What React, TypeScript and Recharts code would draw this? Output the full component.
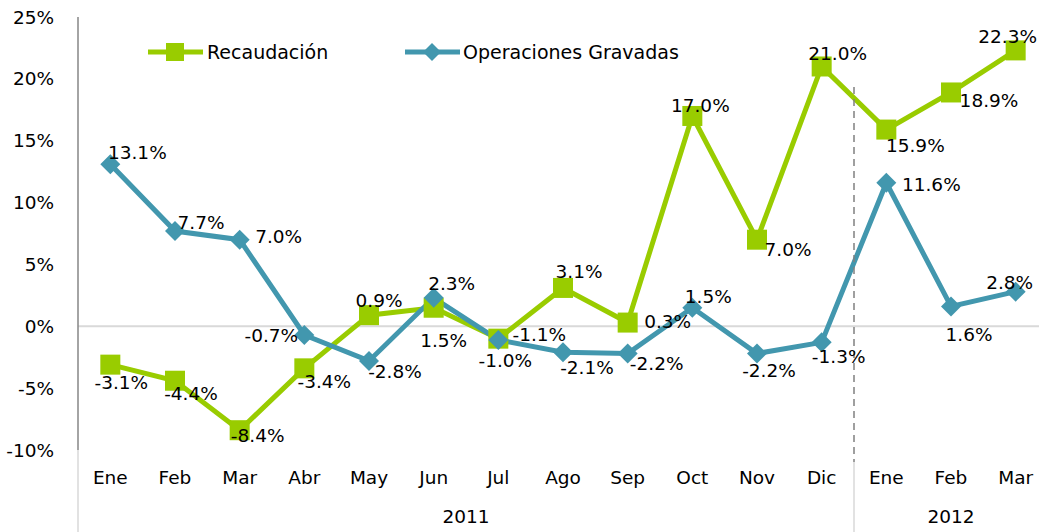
import React from 'react';
import { LineChart, Line, XAxis, YAxis, ReferenceLine } from 'recharts';

const months = ['Ene', 'Feb', 'Mar', 'Abr', 'May', 'Jun', 'Jul', 'Ago', 'Sep', 'Oct', 'Nov', 'Dic', 'Ene', 'Feb', 'Mar'];
const yearOfMonth = ['2011', '2011', '2011', '2011', '2011', '2011', '2011', '2011', '2011', '2011', '2011', '2011', '2012', '2012', '2012'];
const yearLabels = ['2011', '2012'];
const recaudacion = [-3.1, -4.4, -8.4, -3.4, 0.9, 1.5, -1.0, 3.1, 0.3, 17.0, 7.0, 21.0, 15.9, 18.9, 22.3];
const operaciones = [13.1, 7.7, 7.0, -0.7, -2.8, 2.3, -1.1, -2.1, -2.2, 1.5, -2.2, -1.3, 11.6, 1.6, 2.8];
const yTicks = [-10, -5, 0, 5, 10, 15, 20, 25];

// label placement offsets (dx, dy) from each point to label centre
const recLabelOffsets = [[11, 17], [16, 12], [18, 5], [20, 13], [10, -15], [10, 32], [7, 21], [16, -17], [40, -2], [8, -11], [31, 9], [16, -13], [29, 15], [38, 8], [-8, -14]];
const opLabelOffsets = [[27, -12], [26, -9], [39, -4], [-33, 0], [26, 10], [18, -15], [41, -6], [24, 15], [29, 9], [16, -12], [12, 16], [17, 14], [45, 1], [18, 28], [-6, -10]];

const GREEN = '#99CC00';
const BLUE = '#4297AE';
const FONT = '"DejaVu Sans", Verdana, sans-serif';
const FS = 18.5;

const data = months.map((m, i) => ({
  key: `${m}-${yearOfMonth[i]}`,
  rec: recaudacion[i],
  op: operaciones[i],
}));

const CHART_W = 1050;
const Y_AXIS_W = 78;
const M_RIGHT = 2;
const BAND = (CHART_W - Y_AXIS_W - M_RIGHT) / months.length;

const MonthTick = (props: any) => {
  const { x, y, payload } = props;
  const i = payload?.index ?? props.index;
  const half = payload?.offset ? payload.offset : BAND / 2;
  return (
    <g>
      <text x={x} y={y + 34} textAnchor="middle" fill="#000" fontSize={FS} fontFamily={FONT}>
        {months[i]}
      </text>
      {i === 0 && (
        <line x1={x - half} x2={x - half} y1={y} y2={y + 82} stroke="#d9d9d9" strokeWidth={1.5} />
      )}
      {i === 5 && (
        <text x={x + half} y={y + 73} textAnchor="middle" fill="#000" fontSize={FS} fontFamily={FONT}>
          {yearLabels[0]}
        </text>
      )}
      {i === 13 && (
        <text x={x} y={y + 73} textAnchor="middle" fill="#000" fontSize={FS} fontFamily={FONT}>
          {yearLabels[1]}
        </text>
      )}
      {i === 11 && (
        <g>
          <line x1={x + half} x2={x + half} y1={y - 363} y2={y + 12} stroke="#808080" strokeWidth={1.5} strokeDasharray="7 5" />
          <line x1={x + half} x2={x + half} y1={y + 12} y2={y + 82} stroke="#d9d9d9" strokeWidth={1.5} />
        </g>
      )}
    </g>
  );
};

const makeLabel = (offsets: number[][]) => (props: any) => {
  const { x, y, value, index } = props;
  if (x == null || y == null || value == null) return null;
  const off = offsets[index] || [0, -12];
  return (
    <text x={x + off[0]} y={y + off[1] + 7} textAnchor="middle" fill="#000" fontSize={FS} fontFamily={FONT}>
      {`${Number(value).toFixed(1)}%`}
    </text>
  );
};

const SquareDot = (props: any) => {
  const { cx, cy, index } = props;
  if (cx == null || cy == null) return null;
  return <rect key={`s${index}`} x={cx - 10} y={cy - 10} width={20} height={20} fill={GREEN} />;
};

const DiamondDot = (props: any) => {
  const { cx, cy, index } = props;
  if (cx == null || cy == null) return null;
  const r = 10;
  return (
    <path key={`d${index}`} d={`M${cx},${cy - r}L${cx + r},${cy}L${cx},${cy + r}L${cx - r},${cy}Z`} fill={BLUE} />
  );
};

export default function App() {
  return (
    <div
      style={{
        position: 'absolute',
        left: 0,
        top: 0,
        width: 1039,
        height: 532,
        overflow: 'hidden',
        background: '#fff',
        fontFamily: FONT,
      }}
    >
      <LineChart
        width={CHART_W}
        height={532}
        data={data}
        margin={{ top: 17, right: M_RIGHT, bottom: 0, left: 0 }}
      >
        <XAxis
          dataKey="key"
          interval={0}
          axisLine={false}
          tickLine={false}
          tickSize={0}
          tickMargin={0}
          height={82}
          padding={{ left: BAND / 2, right: BAND / 2 }}
          tick={<MonthTick />}
        />
        <YAxis
          width={Y_AXIS_W}
          domain={[-10, 25]}
          ticks={yTicks}
          type="number"
          allowDataOverflow
          tickFormatter={(v: number) => `${v}%`}
          axisLine={{ stroke: '#868686', strokeWidth: 1.5 }}
          tickLine={false}
          tickSize={0}
          tickMargin={24}
          tick={{ fill: '#000', fontSize: FS, fontFamily: FONT }}
        />
        <ReferenceLine y={0} stroke="#d9d9d9" strokeWidth={2} />
        <Line
          type="linear"
          dataKey="rec"
          stroke={GREEN}
          strokeWidth={5}
          dot={<SquareDot />}
          activeDot={false}
          isAnimationActive={false}
          label={makeLabel(recLabelOffsets)}
        />
        <Line
          type="linear"
          dataKey="op"
          stroke={BLUE}
          strokeWidth={5}
          dot={<DiamondDot />}
          activeDot={false}
          isAnimationActive={false}
          label={makeLabel(opLabelOffsets)}
        />
      </LineChart>
      <svg
        width={1039}
        height={90}
        style={{ position: 'absolute', left: 0, top: 0, pointerEvents: 'none' }}
      >
        <line x1={148} x2={203} y1={52} y2={52} stroke={GREEN} strokeWidth={5} />
        <rect x={166} y={43} width={18} height={18} fill={GREEN} />
        <text x={207} y={59} fill="#000" fontSize={19} fontFamily={FONT}>Recaudación</text>
        <line x1={405} x2={460} y1={52} y2={52} stroke={BLUE} strokeWidth={5} />
        <path d="M432,43L441,52L432,61L423,52Z" fill={BLUE} />
        <text x={463} y={59} fill="#000" fontSize={19} fontFamily={FONT}>Operaciones Gravadas</text>
      </svg>
    </div>
  );
}
